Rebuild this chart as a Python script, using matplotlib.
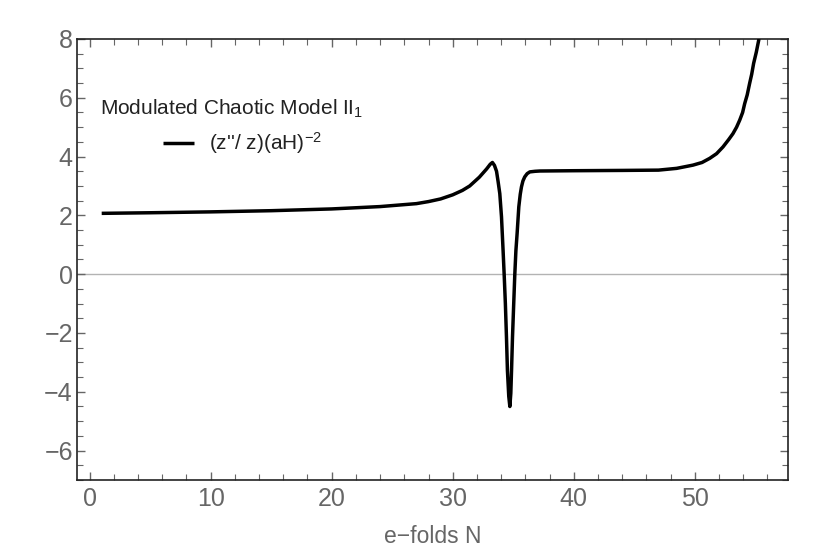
import matplotlib
matplotlib.use("Agg")
import matplotlib.pyplot as plt
from matplotlib.ticker import MultipleLocator

plt.rcParams["font.family"] = ["Liberation Sans", "DejaVu Sans"]
plt.rcParams["mathtext.fontset"] = "custom"
plt.rcParams["mathtext.rm"] = "Liberation Sans"
plt.rcParams["mathtext.it"] = "Liberation Sans"

# e-folds N and (z''/z)(aH)^-2
efolds = [1, 5, 10, 15, 20, 24, 27, 28, 29, 30, 30.8, 31.4, 32.2, 32.8,
          33.1, 33.28, 33.45, 33.62, 33.75, 33.89, 34.03, 34.16, 34.25,
          34.35, 34.44, 34.52, 34.63, 34.72, 34.8, 34.86, 34.94, 35.04,
          35.13, 35.22, 35.32, 35.46, 35.58, 35.68, 35.8, 35.95, 36.15,
          36.37, 36.8, 37.2, 40, 44, 47, 48.5, 49.85, 50.6, 51.23, 51.8,
          52.33, 52.8, 53.15, 53.45, 53.71, 53.95, 54.12, 54.33, 54.53,
          54.7, 54.86, 55.08, 55.3]
zpp_ratio = [2.07, 2.09, 2.12, 2.16, 2.22, 2.3, 2.4, 2.47, 2.56, 2.7, 2.85,
             3.0, 3.3, 3.58, 3.74, 3.8, 3.7, 3.5, 3.15, 2.74, 1.95, 0.82,
             0.0, -1.0, -2.13, -3.27, -4.15, -4.5, -4.05, -3.27, -2.13,
             -1.0, 0.0, 0.8, 1.38, 2.29, 2.72, 2.97, 3.17, 3.31, 3.42,
             3.48, 3.5, 3.51, 3.52, 3.53, 3.54, 3.6, 3.71, 3.8, 3.94, 4.1,
             4.33, 4.58, 4.78, 5.0, 5.24, 5.5, 5.8, 6.1, 6.49, 6.8, 7.17,
             7.55, 8.0]

title = "Modulated Chaotic Model II$_1$"
series_label = "(z''/ z)(aH)$^{-2}$"
xlabel = "e\u2212folds N"

tick_grey = "#666666"

fig = plt.figure(figsize=(8.3, 5.56), dpi=100)
ax = fig.add_axes([77 / 830, 1 - 480 / 556, 711 / 830, 441 / 556])

ax.axhline(0, color="#b3b3b3", lw=1.0, zorder=1)
line, = ax.plot(efolds, zpp_ratio, color="black", lw=2.5,
                solid_joinstyle="round", solid_capstyle="butt", zorder=3)

ax.set_xlim(-1.04, 57.7)
ax.set_ylim(-7, 8)

ax.xaxis.set_major_locator(MultipleLocator(10))
ax.xaxis.set_minor_locator(MultipleLocator(2))
ax.yaxis.set_major_locator(MultipleLocator(2))
ax.yaxis.set_minor_locator(MultipleLocator(0.5))

ax.tick_params(which="both", direction="in", top=True, right=True,
               color=tick_grey, labelcolor=tick_grey, labelsize=18)
ax.tick_params(which="major", length=6, width=1.0)
ax.tick_params(which="minor", length=4, width=0.8)
ax.tick_params(axis="x", pad=5)
ax.tick_params(axis="y", pad=3)

for side in ax.spines.values():
    side.set_color("#222222")
    side.set_linewidth(1.2)

ax.set_xlabel(xlabel, color=tick_grey, fontsize=16.5, labelpad=10)

ax.text(0.032, 0.841, title, transform=ax.transAxes, fontsize=15,
        color="#222222", va="center", ha="left")
ax.legend([line], [series_label], loc="center left",
          bbox_to_anchor=(0.121, 0.764), frameon=False, fontsize=15,
          handlelength=1.5, handletextpad=0.7, labelcolor="#222222",
          borderaxespad=0, borderpad=0)

fig.savefig("out.png", dpi=100)
